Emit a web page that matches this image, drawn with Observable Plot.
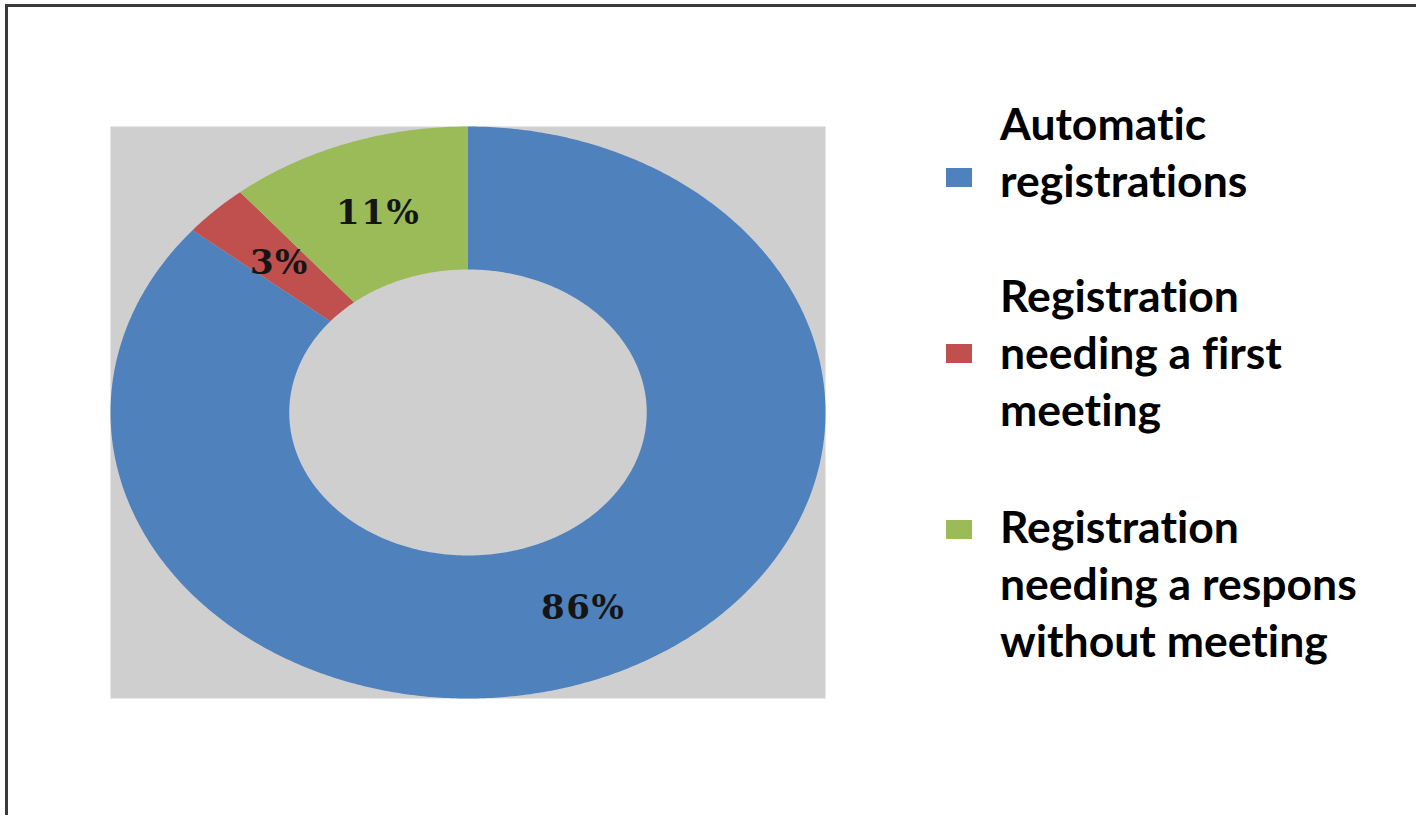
<!DOCTYPE html>
<html>
<head>
<meta charset="utf-8">
<script src="https://cdn.jsdelivr.net/npm/d3@7"></script>
<script src="https://cdn.jsdelivr.net/npm/@observablehq/plot@0.6"></script>
<style>
  html, body { margin: 0; padding: 0; background: #fff; width: 1416px; height: 815px; overflow: hidden; }
  #frame { position: absolute; left: 5px; top: 4px; width: 1420px; height: 900px;
           border-left: 3px solid #3a3a3a; border-top: 3px solid #3a3a3a; }
  #chart { position: absolute; left: 0; top: 0; }
  #legend { position: absolute; left: 0; top: 0; font-family: Lato, "Open Sans", sans-serif; font-weight: 700; color: #000;
            font-variant-ligatures: none; font-feature-settings: "liga" 0, "clig" 0; }
  .item { position: absolute; left: 1000px; font-size: 44.5px; line-height: 57px; white-space: nowrap; }
  .swatch { position: absolute; left: 946px; width: 26px; height: 19px; }
</style>
</head>
<body>
<div id="frame"></div>
<div id="chart"></div>
<div id="legend"></div>
<script>
// ---- data ----
const categories = [
  "Automatic registrations",
  "Registration needing a first meeting",
  "Registration needing a respons without meeting"
];
const legendLines = [
  ["Automatic", "registrations"],
  ["Registration", "needing a first", "meeting"],
  ["Registration", "needing a respons", "without meeting"]
];
const values = [86, 3, 11];
const colors = ["#4F81BD", "#C0504D", "#9BBB59"];

// ---- geometry derived from the data (unit-circle coordinates) ----
const holeRatio = 0.5;
const total = d3.sum(values);
let cum = 0;
const slices = values.map((v, i) => {
  const a0 = cum / total * 2 * Math.PI;
  cum += v;
  const a1 = cum / total * 2 * Math.PI;
  return {category: categories[i], value: v, a0, a1};
});
const ringPts = [];
for (const s of slices) {
  const n = Math.max(4, Math.ceil((s.a1 - s.a0) / 0.01));
  for (let k = 0; k <= n; k++) {
    const a = s.a0 + (s.a1 - s.a0) * k / n;
    ringPts.push({category: s.category, x: Math.sin(a), y: Math.cos(a)});
  }
  for (let k = n; k >= 0; k--) {
    const a = s.a0 + (s.a1 - s.a0) * k / n;
    ringPts.push({category: s.category, x: holeRatio * Math.sin(a), y: holeRatio * Math.cos(a)});
  }
}
const labelR = (1 + holeRatio) / 2;
const labels = slices.map(s => {
  const m = (s.a0 + s.a1) / 2;
  return {x: labelR * Math.sin(m), y: labelR * Math.cos(m), text: s.value + "%"};
});

const W = 1416, H = 815;
const chart = Plot.plot({
  width: W,
  height: H,
  marginLeft: 110,
  marginRight: 591,
  marginTop: 126,
  marginBottom: 117,
  x: {domain: [-1, 1], axis: null},
  y: {domain: [-1, 1], axis: null},
  color: {domain: categories, range: colors},
  style: {background: "transparent"},
  marks: [
    Plot.frame({fill: "#cfcfcf", stroke: "none"}),
    Plot.line(ringPts, {x: "x", y: "y", z: "category", fill: "category", stroke: "none", curve: "linear-closed"}),
    Plot.text(labels, {
      x: "x", y: "y", text: "text",
      fontFamily: "DejaVu Serif", fontWeight: "bold", fontSize: 34,
      fill: "#151515", textAnchor: "middle", dy: 2, dx: 1
    })
  ]
});
chart.querySelectorAll("text").forEach(t => t.style.letterSpacing = "1.5px");
document.getElementById("chart").appendChild(chart);

// ---- legend (HTML, outside the SVG) ----
const legend = document.getElementById("legend");
const itemTops = [94, 266, 497];
const swatchTops = [168, 344, 520];
legendLines.forEach((lines, i) => {
  const sw = document.createElement("div");
  sw.className = "swatch";
  sw.style.top = swatchTops[i] + "px";
  sw.style.background = colors[i];
  legend.appendChild(sw);
  const it = document.createElement("div");
  it.className = "item";
  it.style.top = itemTops[i] + "px";
  it.innerHTML = lines.join("<br>");
  legend.appendChild(it);
});
</script>
</body>
</html>
